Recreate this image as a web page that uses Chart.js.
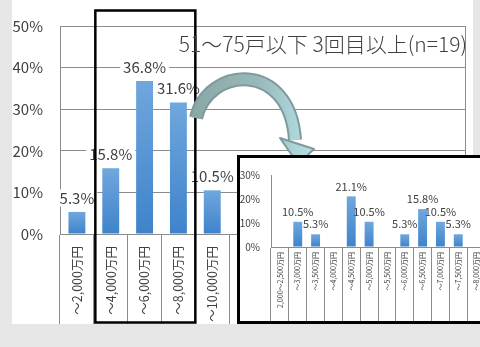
<!DOCTYPE html>
<html>
<head>
<meta charset="utf-8">
<script src="https://cdn.jsdelivr.net/npm/chart.js@4/dist/chart.umd.min.js"></script>
<style>
  html, body { margin: 0; padding: 0; width: 480px; height: 347px; overflow: hidden; background: #e6e6e6; }
  #main { position: absolute; left: 12px; top: 0; width: 461px; height: 324px; background: #fff; }
  #title { position: absolute; right: 13px; top: 31px; font: 300 21px/24px "Noto Sans CJK JP", sans-serif; color: #404040; white-space: nowrap; }
  #inset { position: absolute; left: 237px; top: 155px; width: 251px; height: 169px; border: 3px solid #000; box-sizing: border-box; background: #fff; }
  canvas { display: block; }
</style>
</head>
<body>
<div id="main"><canvas id="mainChart" width="461" height="324"></canvas></div>
<div id="title">51～75戸以下 3回目以上(n=19)</div>
<div id="inset"><canvas id="insetChart" width="245" height="163"></canvas></div>
<script>
// main chart: price bands in 2,000万円 steps (right part is hidden under the inset)
const mainLabels = ["～2,000万円", "～4,000万円", "～6,000万円", "～8,000万円", "～10,000万円",
  "～12,000万円", "～14,000万円", "～16,000万円", "～18,000万円", "～20,000万円", "20,000万円超", "無回答"];
const mainValues = [5.3, 15.8, 36.8, 31.6, 10.5, 0, 0, 0, 0, 0, 0, 0];
const mainTicks = [0, 10, 20, 30, 40, 50];

// inset: the boxed part split into 500万円 steps
const insetLabels = ["2,000～2,500万円", "～3,000万円", "～3,500万円", "～4,000万円", "～4,500万円", "～5,000万円",
  "～5,500万円", "～6,000万円", "～6,500万円", "～7,000万円", "～7,500万円", "～8,000万円"];
const insetValues = [0, 10.5, 5.3, 0, 21.1, 10.5, 0, 5.3, 15.8, 10.5, 5.3, 0];
const insetTicks = [0, 10, 20, 30];

const textColor = "#404040";
const lineColor = "#8c8c8c";
const jp = '"Noto Sans CJK JP", "Noto Sans", sans-serif';

Chart.defaults.color = textColor;
Chart.defaults.font.family = jp;

function barFill(ctx) {
  if (ctx.type !== "data") return "#5b9bd5";
  const chart = ctx.chart;
  const y = chart.scales.y;
  const top = y.getPixelForValue(ctx.raw);
  const bottom = y.getPixelForValue(0);
  if (!isFinite(top) || top >= bottom) return "#5b9bd5";
  const g = chart.ctx.createLinearGradient(0, top, 0, bottom);
  g.addColorStop(0, "#70a7dd");
  g.addColorStop(1, "#3e83cb");
  return g;
}

// percentage labels over the bars
const valueLabels = {
  id: "valueLabels",
  afterDatasetsDraw(chart, args, opts) {
    const ctx = chart.ctx;
    const data = chart.data.datasets[0].data;
    ctx.save();
    ctx.font = opts.size + "px " + jp;
    ctx.textAlign = "center";
    ctx.textBaseline = "middle";
    chart.getDatasetMeta(0).data.forEach((bar, i) => {
      if (!data[i]) return;
      const t = data[i].toFixed(1) + "%";
      const w = ctx.measureText(t).width;
      const cy = bar.y - opts.offset;
      if (opts.backdrop) {
        ctx.fillStyle = "#fff";
        ctx.fillRect(bar.x - w / 2 - 3, cy - opts.size / 2 - 1, w + 6, opts.size + 2);
      }
      ctx.fillStyle = textColor;
      ctx.fillText(t, bar.x, cy);
    });
    ctx.restore();
  }
};

// frame on the right, black box round the zoomed bands, curved arrow
const decorations = {
  id: "decorations",
  afterDraw(chart) {
    const ctx = chart.ctx;
    const area = chart.chartArea;
    const x = chart.scales.x;
    ctx.save();
    ctx.strokeStyle = lineColor;
    ctx.lineWidth = 1;
    ctx.beginPath();
    ctx.moveTo(area.right - 0.5, area.top);
    ctx.lineTo(area.right - 0.5, area.bottom);
    ctx.stroke();

    const half = (x.getPixelForValue(1) - x.getPixelForValue(0)) / 2;
    const left = x.getPixelForValue(1) - half + 1.5;
    const right = x.getPixelForValue(3) + half;
    ctx.strokeStyle = "#000";
    ctx.lineWidth = 2.5;
    ctx.strokeRect(left, 10.5, right - left, chart.height - 12);

    // arrow
    const shaft = () => {
      ctx.beginPath();
      ctx.moveTo(184, 118);
      ctx.bezierCurveTo(196, 66, 278, 60, 283, 140);
    };
    const head = () => {
      ctx.beginPath();
      ctx.moveTo(268, 138);
      ctx.lineTo(302, 149);
      ctx.lineTo(286, 164);
      ctx.closePath();
    };
    const g = ctx.createLinearGradient(180, 0, 300, 0);
    g.addColorStop(0, "#8ba7a6");
    g.addColorStop(0.55, "#98b9ba");
    g.addColorStop(1, "#b6e0e5");
    ctx.lineCap = "butt";
    shaft();
    ctx.strokeStyle = "#7e9b9b";
    ctx.lineWidth = 14;
    ctx.stroke();
    head();
    ctx.fillStyle = g;
    ctx.fill();
    ctx.lineWidth = 2;
    ctx.lineJoin = "round";
    ctx.stroke();
    shaft();
    ctx.strokeStyle = g;
    ctx.lineWidth = 10;
    ctx.stroke();
    ctx.restore();
  }
};

new Chart(document.getElementById("mainChart"), {
  type: "bar",
  data: {
    labels: mainLabels,
    datasets: [{ data: mainValues, backgroundColor: barFill, categoryPercentage: 1, barPercentage: 0.5 }]
  },
  options: {
    responsive: false,
    animation: false,
    devicePixelRatio: 1,
    layout: { padding: { top: 19, right: 7, left: 0, bottom: 0 } },
    plugins: {
      legend: { display: false },
      title: { display: false },
      tooltip: { enabled: false },
      valueLabels: { size: 15, offset: 14, backdrop: true }
    },
    scales: {
      x: {
        grid: { display: true, offset: true, drawOnChartArea: false, drawTicks: true, tickLength: 90, color: lineColor },
        border: { color: lineColor },
        ticks: { autoSkip: false, minRotation: 90, maxRotation: 90, padding: -78, font: { size: 12.5 } },
        afterFit: (s) => { s.height = 90; }
      },
      y: {
        min: 0,
        max: 50,
        afterBuildTicks: (s) => { s.ticks = mainTicks.map(v => ({ value: v })); },
        grid: { color: lineColor, drawTicks: false },
        border: { color: lineColor },
        ticks: { padding: 17, font: { size: 15 }, callback: v => v + "%" },
        afterFit: (s) => { s.width = 48; }
      }
    }
  },
  plugins: [valueLabels, decorations]
});

new Chart(document.getElementById("insetChart"), {
  type: "bar",
  data: {
    labels: insetLabels,
    datasets: [{ data: insetValues, backgroundColor: barFill, categoryPercentage: 1, barPercentage: 0.5 }]
  },
  options: {
    responsive: false,
    animation: false,
    devicePixelRatio: 1,
    layout: { padding: { top: 14, right: 0, left: 0, bottom: 0 } },
    plugins: {
      legend: { display: false },
      title: { display: false },
      tooltip: { enabled: false },
      valueLabels: { size: 11, offset: 10, backdrop: false }
    },
    scales: {
      x: {
        grid: { display: true, offset: true, drawOnChartArea: false, drawTicks: true, tickLength: 74, color: lineColor },
        border: { color: lineColor },
        ticks: { autoSkip: false, minRotation: 90, maxRotation: 90, padding: -69, font: { size: 7 } },
        afterFit: (s) => { s.height = 74; }
      },
      y: {
        min: 0,
        max: 30,
        afterBuildTicks: (s) => { s.ticks = insetTicks.map(v => ({ value: v })); },
        grid: { display: true, drawOnChartArea: false, drawTicks: false },
        border: { color: lineColor },
        ticks: { padding: 11, font: { size: 10 }, callback: v => v + "%" },
        afterFit: (s) => { s.width = 31; }
      }
    }
  },
  plugins: [valueLabels]
});
</script>
</body>
</html>
